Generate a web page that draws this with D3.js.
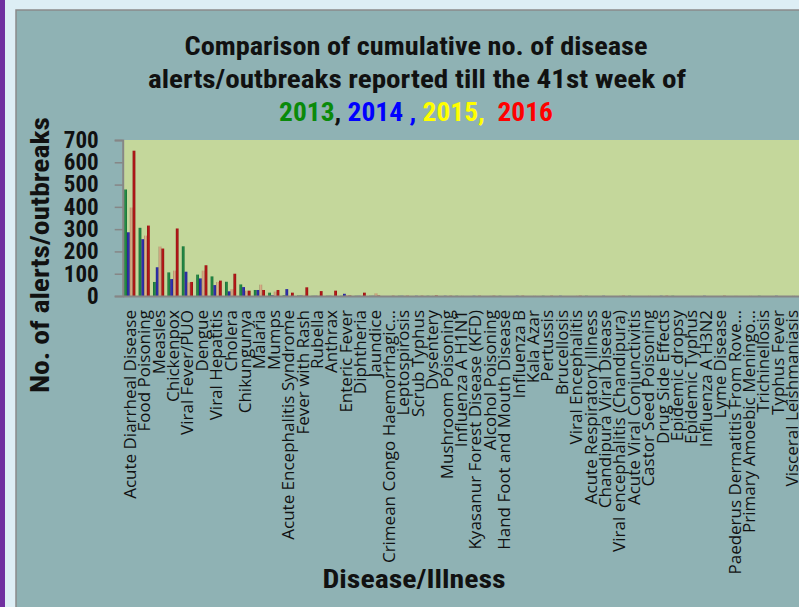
<!DOCTYPE html>
<html lang="en">
<head>
  <meta charset="UTF-8">
  <title>Disease alerts/outbreaks till 41st week</title>
  <script src="https://d3js.org/d3.v7.min.js"></script>
  <style>
    body { margin: 0; background: #ddeef5; }
    .narrow { font-family: "Liberation Sans Narrow", "Roboto Condensed", "Arial Narrow", "Liberation Sans", sans-serif; font-weight: bold; }
    .cat-label { font-family: "Open Sans", "DejaVu Sans", sans-serif; font-size: 17px; fill: #111; }
  </style>
</head>
<body>
<svg id="chart"></svg>

<script>
  // categories (x axis)
  var diseases = [
    "Acute Diarrheal Disease", "Food Poisoning", "Measles", "Chickenpox", "Viral Fever/PUO",
    "Dengue", "Viral Hepatitis", "Cholera", "Chikungunya", "Malaria", "Mumps",
    "Acute Encephalitis Syndrome", "Fever with Rash", "Rubella", "Anthrax", "Enteric Fever",
    "Diphtheria", "Jaundice", "Crimean Congo Haemorrhagic...", "Leptospirosis", "Scrub Typhus",
    "Dysentery", "Mushroom Poisoning", "Influenza A H1N1", "Kyasanur Forest Disease (KFD)",
    "Alcohol Poisoning", "Hand Foot and Mouth Disease", "Influenza B", "Kala Azar", "Pertussis",
    "Brucellosis", "Viral Encephalitis", "Acute Respiratory Illness", "Chandipura Viral Disease",
    "Viral encephalitis (Chandipura)", "Acute Viral Conjunctivitis", "Castor Seed Poisoning",
    "Drug Side Effects", "Epidemic dropsy", "Epidemic Typhus", "Influenza A H3N2", "Lyme Disease",
    "Paederus Dermatitis From Rove...", "Primary Amoebic Meningo...", "Trichinellosis",
    "Typhus Fever", "Visceral Leishmaniasis"
  ];

  // series values
  var y2013 = [478, 306, 63, 106, 223, 96, 88, 64, 52, 27, 15, 3, 2, 1, 1, 1, 1, 1, 0, 1,
               0, 1, 0, 1, 0, 0, 1, 0, 0, 1, 0, 0, 1, 0, 0, 1, 0, 0, 1, 0, 0, 0, 0, 0, 1, 0, 0];
  var y2014 = [286, 255, 129, 76, 109, 79, 49, 21, 40, 27, 3, 31, 2, 1, 1, 10, 1, 1, 0, 1,
               1, 0, 1, 0, 1, 0, 0, 1, 0, 0, 1, 0, 0, 1, 0, 0, 0, 1, 0, 0, 1, 0, 0, 0, 0, 1, 0];
  var y2015 = [397, 271, 222, 114, 61, 114, 63, 31, 24, 51, 20, 2, 5, 2, 1, 4, 2, 12, 0, 1,
               0, 1, 0, 1, 0, 1, 0, 0, 1, 0, 0, 1, 0, 0, 1, 0, 1, 0, 0, 1, 0, 0, 1, 1, 0, 0, 1];
  var y2016 = [652, 316, 213, 303, 63, 138, 69, 100, 24, 27, 27, 15, 39, 22, 24, 2, 15, 2, 1, 1,
               1, 2, 1, 0, 1, 1, 0, 1, 0, 1, 0, 1, 0, 0, 1, 0, 0, 1, 0, 0, 0, 1, 0, 0, 0, 0, 0];

  var years = ["2013", "2014", "2015", "2016"];
  var seriesValues = [y2013, y2014, y2015, y2016];
  var yTicks = [0, 100, 200, 300, 400, 500, 600, 700];

  var barColors = ["#1f8040", "#2c2ca0", "#c9a27c", "#a81616"];
  var titleColors = ["#0a8a0a", "#0000ff", "#ffff00", "#ff0000"];

  var svgWidth = 799, svgHeight = 607;
  var plot = { left: 122.7, top: 140, bottom: 296 };

  var svg = d3.select("#chart")
    .attr("width", svgWidth)
    .attr("height", svgHeight);

  // page background pieces
  svg.append("rect").attr("x", 0).attr("y", 0).attr("width", svgWidth).attr("height", svgHeight).attr("fill", "#ddeef5");
  svg.append("rect").attr("x", 0).attr("y", 0).attr("width", 5).attr("height", svgHeight).attr("fill", "#7030a0");
  svg.append("rect").attr("x", 16).attr("y", 10).attr("width", svgWidth).attr("height", svgHeight)
    .attr("fill", "#8fb2b4").attr("stroke", "#8a8a8a").attr("stroke-width", 1.5);

  // gradients for the bars
  var defs = svg.append("defs");
  barColors.forEach(function(c, i) {
    var g = defs.append("linearGradient").attr("id", "grad" + i)
      .attr("x1", "0%").attr("x2", "100%").attr("y1", "0%").attr("y2", "0%");
    g.append("stop").attr("offset", "0%").attr("stop-color", d3.color(c).darker(0.6));
    g.append("stop").attr("offset", "45%").attr("stop-color", d3.color(c).brighter(0.3));
    g.append("stop").attr("offset", "100%").attr("stop-color", d3.color(c).darker(0.4));
  });

  // scales
  var x = d3.scaleBand()
    .domain(diseases)
    .range([plot.left, plot.left + diseases.length * 14.4])
    .paddingInner(0);

  var xs = d3.scaleBand()
    .domain(years)
    .range([1.5, 12.7]);

  var y = d3.scaleLinear()
    .domain([0, 700])
    .range([plot.bottom, plot.top]);

  // plot area
  svg.append("rect")
    .attr("x", plot.left).attr("y", plot.top)
    .attr("width", svgWidth - plot.left).attr("height", plot.bottom - plot.top)
    .attr("fill", "#c4d79b");

  // bars
  var groups = svg.selectAll(".grp")
    .data(diseases)
    .enter().append("g")
    .attr("class", "grp")
    .attr("transform", function(d) { return "translate(" + x(d) + ",0)"; });

  groups.selectAll("rect")
    .data(function(d, i) { return years.map(function(yr, k) { return { year: yr, k: k, v: seriesValues[k][i] }; }); })
    .enter().append("rect")
    .attr("x", function(d) { return xs(d.year); })
    .attr("width", xs.bandwidth())
    .attr("y", function(d) { return y(d.v); })
    .attr("height", function(d) { return plot.bottom - y(d.v); })
    .attr("fill", function(d) { return "url(#grad" + d.k + ")"; });

  // y axis
  var yAxis = svg.append("g")
    .attr("transform", "translate(" + plot.left + ",0)")
    .call(d3.axisLeft(y).tickValues(yTicks).tickSize(8).tickPadding(16));
  yAxis.select(".domain").attr("stroke", "#868686").attr("stroke-width", 2);
  yAxis.selectAll(".tick line").attr("stroke", "#868686").attr("stroke-width", 1.5);
  yAxis.selectAll(".tick text")
    .attr("class", "narrow")
    .attr("font-size", "23px")
    .attr("fill", "#111");

  // x axis
  var xAxis = svg.append("g")
    .attr("transform", "translate(0," + plot.bottom + ")")
    .call(d3.axisBottom(x).tickSize(0));
  xAxis.select(".domain").attr("stroke", "#868686").attr("stroke-width", 2);
  xAxis.selectAll(".tick text")
    .attr("class", "cat-label")
    .attr("transform", "rotate(-90)")
    .attr("text-anchor", "end")
    .attr("x", -14)
    .attr("y", 0)
    .attr("dy", "0.35em");

  // title
  function narrowText(tx, ty, size, len) {
    return svg.append("text")
      .attr("class", "narrow")
      .attr("text-anchor", "middle")
      .attr("font-size", size + "px")
      .attr("fill", "#111")
      .attr("x", tx).attr("y", ty)
      .attr("textLength", len)
      .attr("lengthAdjust", "spacingAndGlyphs");
  }

  narrowText(416, 55, 26, 463).text("Comparison of cumulative no. of disease");
  narrowText(417, 88, 26, 538).text("alerts/outbreaks reported till the 41st  week of");

  var line3 = narrowText(416, 121, 26, 274).style("white-space", "pre");
  line3.append("tspan").attr("fill", titleColors[0]).text("2013");
  line3.append("tspan").attr("fill", "#111").text(", ");
  line3.append("tspan").attr("fill", titleColors[1]).text("2014 , ");
  line3.append("tspan").attr("fill", titleColors[2]).text("2015,  ");
  line3.append("tspan").attr("fill", titleColors[3]).text("2016");

  // axis titles
  narrowText(0, 0, 25, 276)
    .attr("x", null).attr("y", null)
    .attr("transform", "translate(48.5,255) rotate(-90)")
    .text("No. of alerts/outbreaks");

  narrowText(414, 588, 26, 183).text("Disease/Illness");
</script>
</body>
</html>
